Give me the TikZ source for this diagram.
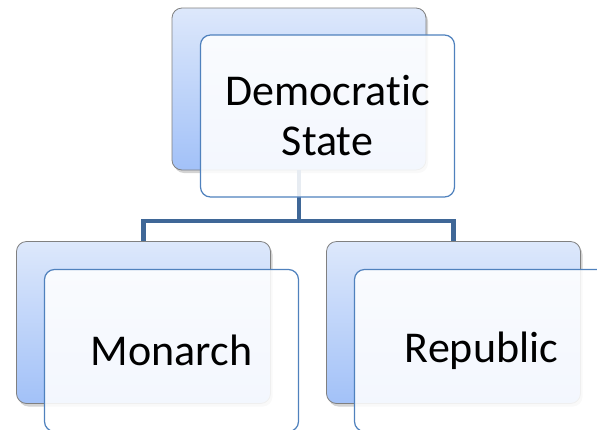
\documentclass[tikz,border=0pt]{standalone}
\usepackage{fontspec}
\setmainfont[Ligatures=NoCommon]{Carlito}
\usetikzlibrary{positioning, shadows}

\definecolor{backtop}{HTML}{DDE8FB}
\definecolor{backbot}{HTML}{A2C1F8}
\definecolor{frontline}{HTML}{4F81BD}
\definecolor{linkcol}{HTML}{3F6797}

\begin{document}
\begin{tikzpicture}[x=1pt, y=-1pt,
    backbox/.style={draw=black!50, line width=0.8pt, rounded corners=10pt,
        top color=backtop, bottom color=backbot,
        minimum width=254pt, minimum height=162pt,
        drop shadow={shadow xshift=2pt, shadow yshift=-3pt, opacity=0.35}},
    frontbox/.style={draw=frontline, line width=1.2pt, rounded corners=10pt,
        fill=white, fill opacity=0.88, text opacity=1,
        minimum width=254pt, minimum height=162pt,
        align=center, inner sep=0pt,
        font=\fontsize{44}{50}\selectfont},
    link/.style={draw=linkcol, line width=4.5pt}
    ]
    \useasboundingbox (0,0) rectangle (597,429);
    \clip (0,0) rectangle (597,429);

    % back cards
    \node[backbox] (dsBack) at (299,89) {};
    \node[backbox] (monBack) at (143.5,322.5) {};
    \node[backbox] (repBack) at (453.5,322.5) {};

    % links
    \coordinate (split) at (299,221);
    \draw[link] (dsBack.south) -- (split);
    \draw[link] (split) -| (monBack.north);
    \draw[link] (split) -| (repBack.north);

    % front cards
    \node[frontbox] (dsFront) at (327.5,116) {Democratic\\State};
    \node[frontbox] (monFront) at (171.5,350.5) {Monarch};
    \node[frontbox] (repFront) at (481.5,350.5) {Republic};
\end{tikzpicture}
\end{document}
